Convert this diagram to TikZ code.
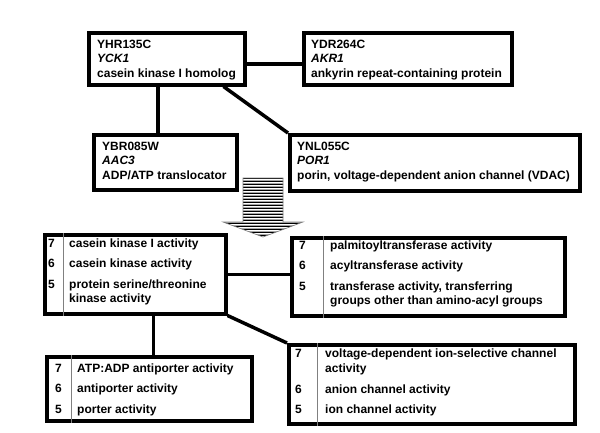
\documentclass[tikz,border=0pt]{standalone}
\usepackage{fontspec}
\setmainfont{Liberation Sans}
\usetikzlibrary{calc}

\begin{document}
\begin{tikzpicture}[x=1pt,y=-1pt]
        \tikzstyle{every node}+=[inner sep=0pt]
        \tikzstyle{box}=[draw, black, line width=3.5pt, anchor=north west]
        \tikzstyle{txt}=[anchor=base west, font=\bfseries\fontsize{12}{14.5}\selectfont]
        \tikzstyle{link}=[black, line width=3.5pt]
        \tikzstyle{sep}=[gray, line width=0.8pt]
        \useasboundingbox [fill=white] (0,0) rectangle (600,432);
        % genes
        \node [box, minimum width=156, minimum height=52] (yhr) at (87,31) {};
        \node [txt] (yhr-a) at (97,48) {YHR135C};
        \node [txt] (yhr-b) at (97,62.5) {\itshape YCK1};
        \node [txt] (yhr-c) at (97,77) {casein kinase I homolog};
        \node [box, minimum width=208, minimum height=52] (ydr) at (302,31) {};
        \node [txt] (ydr-a) at (311,48) {YDR264C};
        \node [txt] (ydr-b) at (311,62.5) {\itshape AKR1};
        \node [txt] (ydr-c) at (311,77) {ankyrin repeat-containing protein};
        \node [box, minimum width=143, minimum height=55] (ybr) at (92,133) {};
        \node [txt] (ybr-a) at (102,150) {YBR085W};
        \node [txt] (ybr-b) at (102,164.5) {\itshape AAC3};
        \node [txt] (ybr-c) at (102,179) {ADP/ATP translocator};
        \node [box, minimum width=290, minimum height=56] (ynl) at (288,133) {};
        \node [txt] (ynl-a) at (297,150) {YNL055C};
        \node [txt] (ynl-b) at (297,164.5) {\itshape POR1};
        \node [txt] (ynl-c) at (297,179) {porin, voltage-dependent anion channel (VDAC)};
        \draw [link] ([yshift=-5pt]yhr.east) -- ([yshift=-5pt]ydr.west);
        \draw [link] ([xshift=-9pt]yhr.south) -- ([xshift=-9pt]yhr.south |- ybr.north);
        \draw [link] ([xshift=-23pt]yhr.south east) -- (ynl.north west);
        % striped arrow
        \begin{scope}
            \clip (243,178) -- (283,178) -- (283,222) -- (303,222) -- (263,237) -- (223,222) -- (243,222) -- cycle;
            \fill [white] (220,175) rectangle (306,240);
            \foreach \y in {178.6,181.6,...,238} {
                \draw [black, line width=1.1pt] (220,\y) -- (306,\y);
                \draw [gray!70, line width=1.1pt] (220,\y+1.5) -- (306,\y+1.5);
            }
        \end{scope}
        \draw [gray, line width=0.6pt] (243,178) -- (283,178) -- (283,222) -- (303,222) -- (263,237) -- (223,222) -- (243,222) -- cycle;
        % GO terms
        \node [box, minimum width=181, minimum height=79] (go1) at (43,233) {};
        \draw [sep] ([xshift=20pt]go1.north west) -- ([xshift=20pt]go1.south west);
        \node [txt] (go1-7) at (48,247) {7};
        \node [txt] (go1-7t) at (69,247) {casein kinase I activity};
        \node [txt] (go1-6) at (48,267.5) {6};
        \node [txt] (go1-6t) at (69,267.5) {casein kinase activity};
        \node [txt] (go1-5) at (48,288) {5};
        \node [txt] (go1-5t) at (69,288) {protein serine/threonine};
        \node [txt] (go1-5u) at (69,302.5) {kinase activity};
        \node [box, minimum width=273, minimum height=78] (go2) at (290,236) {};
        \draw [sep] ([xshift=33pt]go2.north west) -- ([xshift=33pt]go2.south west);
        \node [txt] (go2-7) at (299,249) {7};
        \node [txt] (go2-7t) at (330,249) {palmitoyltransferase activity};
        \node [txt] (go2-6) at (299,269.5) {6};
        \node [txt] (go2-6t) at (330,269.5) {acyltransferase activity};
        \node [txt] (go2-5) at (299,290) {5};
        \node [txt] (go2-5t) at (330,290) {transferase activity, transferring};
        \node [txt] (go2-5u) at (330,304.5) {groups other than amino-acyl groups};
        \node [box, minimum width=205, minimum height=64] (go3) at (45,355) {};
        \draw [sep] ([xshift=26pt]go3.north west) -- ([xshift=26pt]go3.south west);
        \node [txt] (go3-7) at (55,372) {7};
        \node [txt] (go3-7t) at (77,372) {ATP:ADP antiporter activity};
        \node [txt] (go3-6) at (55,392.5) {6};
        \node [txt] (go3-6t) at (77,392.5) {antiporter activity};
        \node [txt] (go3-5) at (55,413) {5};
        \node [txt] (go3-5t) at (77,413) {porter activity};
        \node [box, minimum width=286, minimum height=79] (go4) at (287,343) {};
        \draw [sep] ([xshift=30pt]go4.north west) -- ([xshift=30pt]go4.south west);
        \node [txt] (go4-7) at (295,357.5) {7};
        \node [txt] (go4-7t) at (325,357.5) {voltage-dependent ion-selective channel};
        \node [txt] (go4-7u) at (325,372) {activity};
        \node [txt] (go4-6) at (295,393) {6};
        \node [txt] (go4-6t) at (325,393) {anion channel activity};
        \node [txt] (go4-5) at (295,413.5) {5};
        \node [txt] (go4-5t) at (325,413.5) {ion channel activity};
        \draw [link] (go1.east) -- (go1.east -| go2.west);
        \draw [link] ([xshift=4pt]go3.north) -- ([xshift=4pt]go3.north |- go1.south);
        \draw [link] (go1.south east) -- (go4.north west);
    \end{tikzpicture}
\end{document}
